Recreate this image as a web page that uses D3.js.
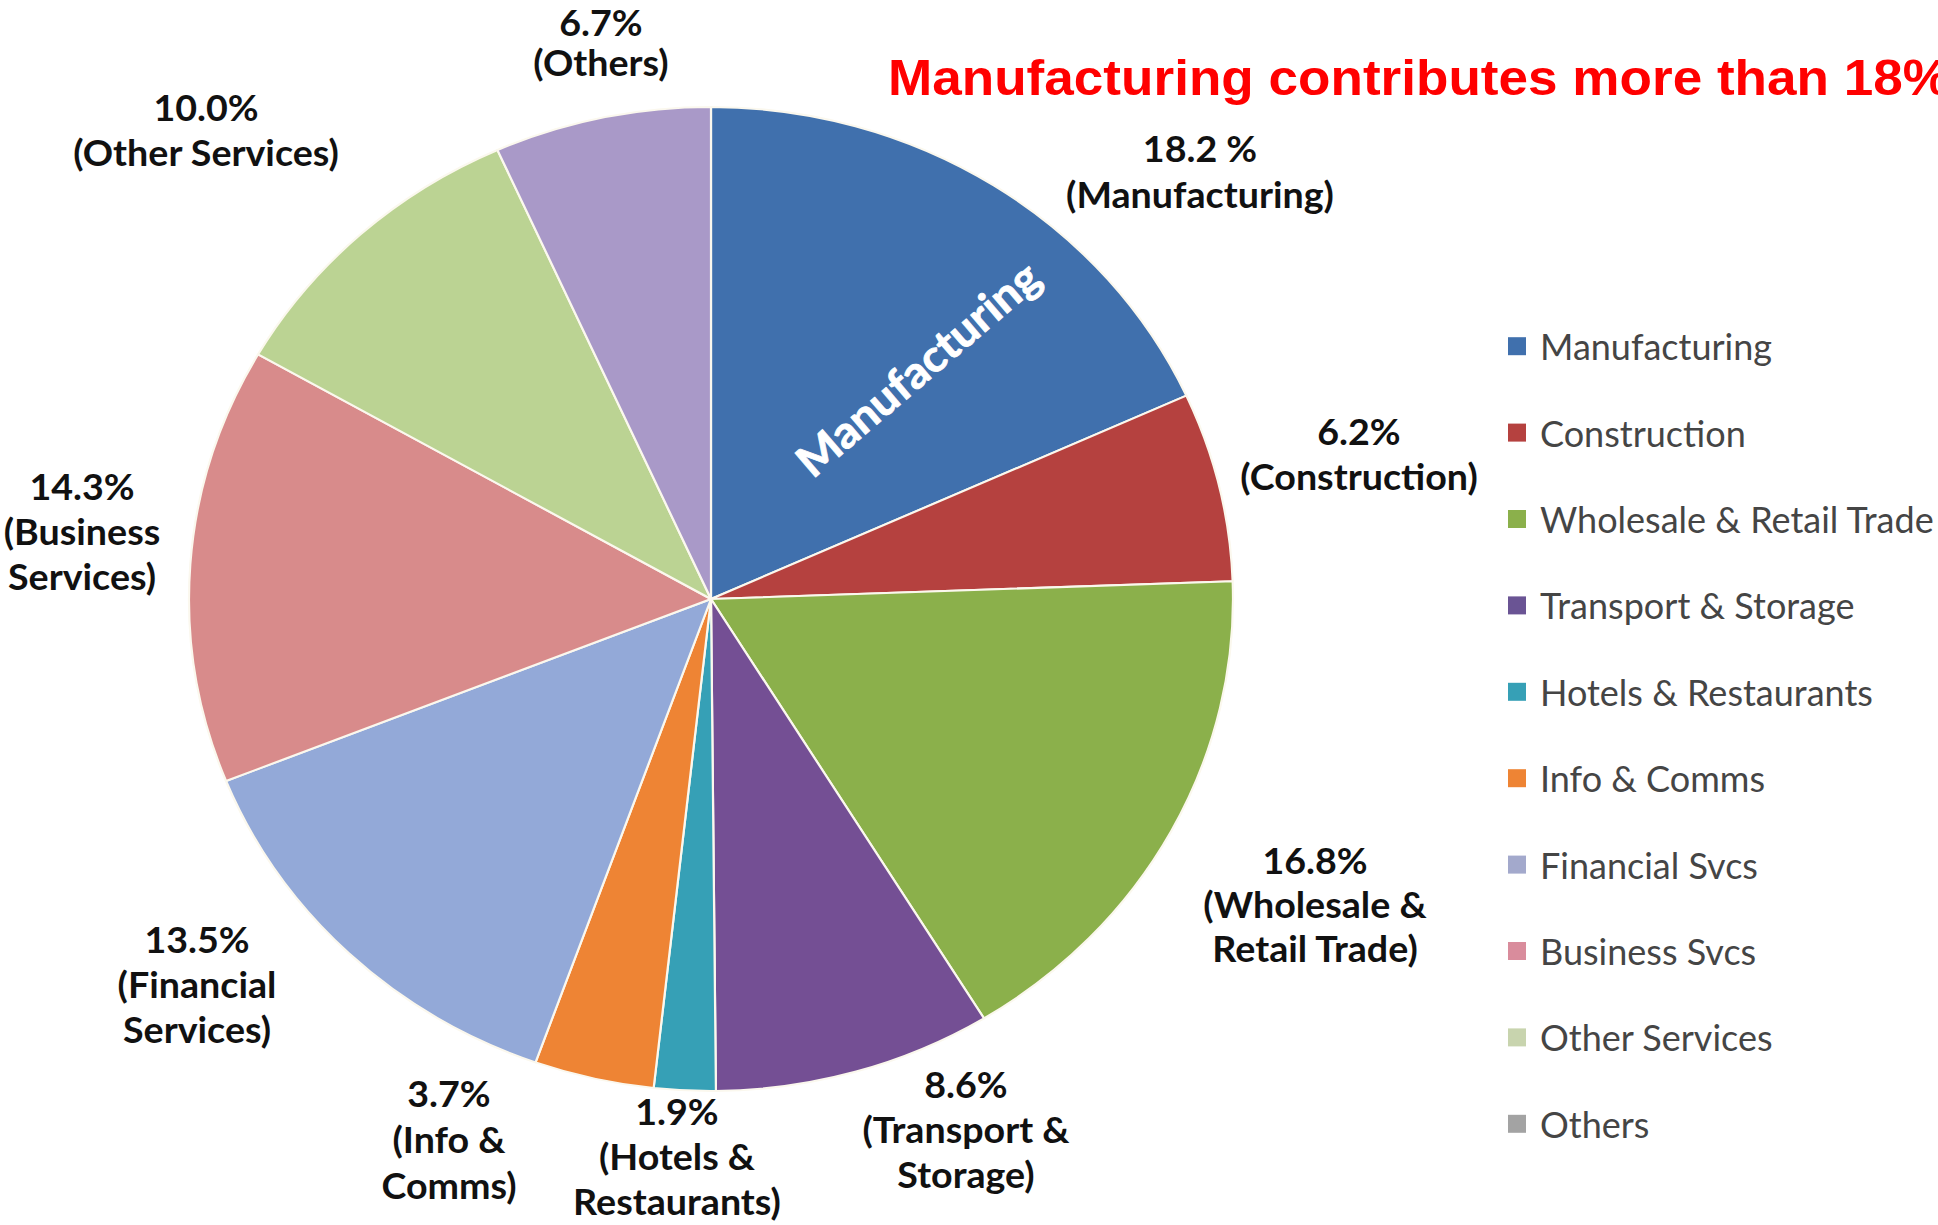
<!DOCTYPE html>
<html>
<head>
<meta charset="utf-8">
<script src="https://cdn.jsdelivr.net/npm/d3@7"></script>
<style>
  html, body { margin: 0; padding: 0; background: #ffffff; overflow: hidden; }
  svg { display: block; }
</style>
</head>
<body>
<svg id="chart" width="1938" height="1225"></svg>
<script>
// Sector shares of the economy (%), clockwise from 12 o'clock
const sectors = [
  "Manufacturing", "Construction", "Wholesale & Retail Trade", "Transport & Storage",
  "Hotels & Restaurants", "Info & Comms", "Financial Svcs", "Business Svcs",
  "Other Services", "Others"
];
const shares = [18.2, 6.2, 16.8, 8.6, 1.9, 3.7, 13.5, 14.3, 10.0, 6.7];
const valueLabels = ["18.2 %", "6.2%", "16.8%", "8.6%", "1.9%", "3.7%", "13.5%", "14.3%", "10.0%", "6.7%"];
const sectorLabelLines = [
  ["(Manufacturing)"], ["(Construction)"], ["(Wholesale &", "Retail Trade)"],
  ["(Transport &", "Storage)"], ["(Hotels &", "Restaurants)"], ["(Info &", "Comms)"],
  ["(Financial", "Services)"], ["(Business", "Services)"], ["(Other Services)"], ["(Others)"]
];
const sliceColors = [
  "#4070ad", "#b5413f", "#8bb04b", "#744f94", "#36a0b6",
  "#ee8434", "#93a9d8", "#d88b8b", "#bbd393", "#a999c8"
];
const legendColors = [
  "#4070ad", "#b5413f", "#8bb04b", "#6a5494", "#36a0b6",
  "#ee8434", "#a3a9cc", "#d98c9c", "#c8d4ae", "#a3a3a3"
];
const titleText = "Manufacturing contributes more than 18%";
const insideLabel = "Manufacturing";

// ---- layout ----
const W = 1938, H = 1225;
const cx = 711, cy = 599, R = 522, squash = 0.9425;
// centre x and first baseline of each outside label, in slice order
const labelAnchors = [
  [1200, 162], [1359, 445], [1315, 874], [966, 1098], [677, 1125],
  [449, 1107], [197, 953], [82, 500], [206, 121], [601, 36]
];
const lineGaps = [46, 45, 44, 45, 45, 46, 45, 45, 45, 40];
const labelStretch = 1.06;

const svg = d3.select("#chart");

// Pie
const pie = d3.pie().sort(null).value(d => d)
  .startAngle(0).endAngle(2 * Math.PI);
const arc = d3.arc().innerRadius(0).outerRadius(R);
const arcs = pie(shares);

const pieG = svg.append("g")
  .attr("transform", `translate(${cx},${cy}) scale(1,${squash})`);

pieG.selectAll("path")
  .data(arcs)
  .join("path")
  .attr("d", arc)
  .attr("fill", (d, i) => sliceColors[i])
  .attr("stroke", "#fbf8ee")
  .attr("stroke-width", 2.2)
  .attr("stroke-linejoin", "round");

// White sector name inside the largest slice
svg.append("text")
  .attr("transform", `translate(917,368) rotate(-40.5) scale(1.05,1)`)
  .attr("text-anchor", "middle")
  .attr("dominant-baseline", "central")
  .attr("font-family", "Lato, 'Open Sans', sans-serif")
  .attr("font-weight", 700)
  .attr("font-size", 44)
  .attr("fill", "#ffffff")
  .attr("stroke", "#ffffff")
  .attr("stroke-width", 0.8)
  .text(insideLabel);

// Outside value labels
const labelG = svg.append("g")
  .attr("font-family", "Lato, 'Open Sans', sans-serif")
  .attr("font-weight", 700)
  .attr("font-size", 35.5)
  .attr("fill", "#111111")
  .attr("text-anchor", "middle");

arcs.forEach((a, i) => {
  const [x, y] = labelAnchors[i];
  const lines = [valueLabels[i], ...sectorLabelLines[i]];
  const t = labelG.append("text")
    .attr("transform", `translate(${x},${y}) scale(${labelStretch},1)`);
  lines.forEach((ln, k) => {
    t.append("tspan").attr("x", 0).attr("y", k * lineGaps[i]).text(ln);
  });
});

// Legend
const legendScale = d3.scaleBand().domain(sectors).range([303, 1167]);
const legendG = svg.append("g")
  .attr("font-family", "Lato, 'Open Sans', sans-serif")
  .attr("font-size", 36)
  .attr("fill", "#454545");

const rows = legendG.selectAll("g")
  .data(sectors)
  .join("g")
  .attr("transform", d => `translate(1508,${legendScale(d) + legendScale.bandwidth() / 2})`);

rows.append("rect")
  .attr("x", 0).attr("y", -9).attr("width", 18).attr("height", 18)
  .attr("fill", (d, i) => legendColors[i]);

rows.append("text")
  .attr("x", 32)
  .attr("dominant-baseline", "central")
  .text(d => d);

// Headline
svg.append("text")
  .attr("x", 888)
  .attr("y", 95)
  .attr("font-family", "'Liberation Sans', Arial, sans-serif")
  .attr("font-weight", 700)
  .attr("font-size", 50)
  .attr("fill", "#ff0000")
  .attr("textLength", 1062)
  .attr("lengthAdjust", "spacingAndGlyphs")
  .text(titleText);
</script>
</body>
</html>
